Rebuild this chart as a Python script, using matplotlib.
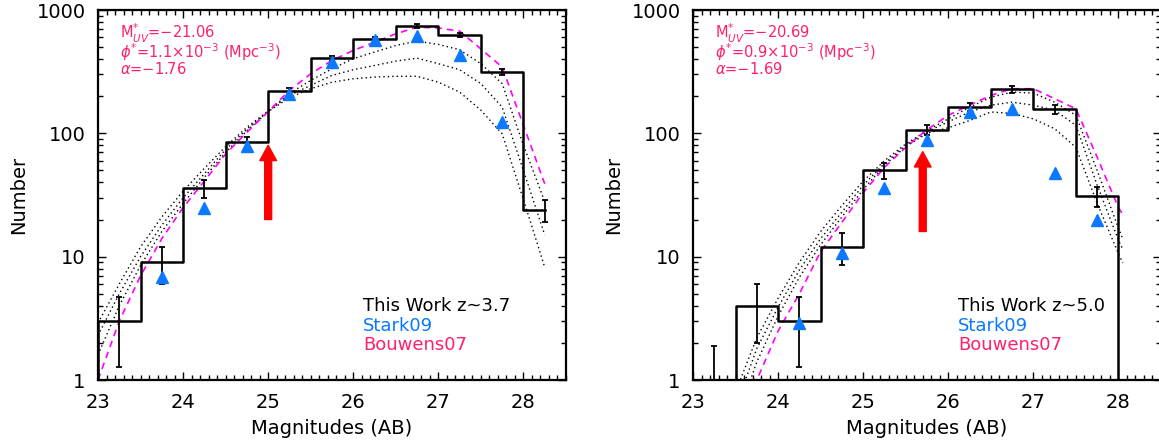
import numpy as np
import matplotlib
matplotlib.use("Agg")
import matplotlib.pyplot as plt
from matplotlib.ticker import FixedLocator, FixedFormatter, MultipleLocator

# ---- data ----
bin_mags = [22.75, 23.25, 23.75, 24.25, 24.75, 25.25, 25.75, 26.25, 26.75, 27.25, 27.75, 28.25]
counts_z37 = [0, 3, 9, 36, 85, 220, 407, 585, 747, 625, 314, 24]
counts_z50 = [0, 0, 4, 3, 12, 50, 107, 165, 227, 157, 31, 0]

# error bars (bin centre, count, error)
err_mags_z37 = [23.25, 23.75, 24.25, 24.75, 25.25, 25.75, 26.25, 26.75, 27.25, 27.75, 28.25]
err_n_z37 = [3, 9, 36, 85, 220, 407, 585, 747, 625, 314, 24]
err_z37 = [1.73, 3.0, 6.0, 9.2, 14.8, 20.2, 24.2, 27.3, 25.0, 17.7, 4.9]
err_mags_z50 = [23.25, 23.75, 24.25, 24.75, 25.25, 25.75, 26.25, 26.75, 27.25, 27.75]
err_n_z50 = [0, 4, 3, 12, 50, 107, 165, 227, 157, 31]
err_z50 = [1.9, 2.0, 1.73, 3.46, 7.1, 10.3, 12.8, 15.1, 12.5, 5.6]

stark_mags_z37 = [23.75, 24.25, 24.75, 25.25, 25.75, 26.25, 26.75, 27.25, 27.75]
stark_z37 = [6.9, 24.6, 79, 207, 376, 566, 610, 428, 124]
stark_mags_z50 = [24.25, 24.75, 25.25, 25.75, 26.25, 26.75, 27.25, 27.75]
stark_z50 = [2.9, 10.8, 36, 89, 148, 157, 48, 19.8]

model_mags_z37 = [23.0, 23.25, 23.5, 23.75, 24.0, 24.25, 24.5, 24.75, 25.0, 25.25, 25.5,
                  25.75, 26.0, 26.25, 26.5, 26.75, 27.0, 27.25, 27.5, 27.75, 28.0, 28.25]
bouwens_z37 = [1.0, 3.0, 7.0, 14, 25, 41, 68, 102, 150, 223, 304,
               390, 470, 548, 641, 726, 715, 674, 483, 344, 116, 39]
sim1_z37 = [2.9, 6.0, 12, 21, 34, 52, 78, 112, 152, 210, 269,
            334, 403, 456, 516, 559, 526, 476, 367, 253, 80, 28]
sim2_z37 = [2.3, 5.0, 10, 18, 30, 47, 74, 108, 151, 203, 245,
            295, 328, 355, 385, 407, 367, 328, 253, 163, 50, 15]
sim3_z37 = [1.6, 4.0, 8.5, 16, 27, 44, 70, 105, 150, 195, 230,
            260, 277, 286, 290, 290, 260, 216, 154, 99, 29, 8.2]

model_mags_z50 = [23.5, 23.75, 24.0, 24.25, 24.5, 24.75, 25.0, 25.25, 25.5, 25.75,
                  26.0, 26.25, 26.5, 26.75, 27.0, 27.25, 27.5, 27.75, 28.0, 28.05]
bouwens_z50 = [0.4, 1.0, 2.5, 5.0, 11, 19, 33, 53, 77, 107,
               140, 169, 203, 230, 230, 191, 158, 64, 25, 22]
sim1_z50 = [0.8, 2.2, 4.6, 9.0, 16, 26, 41, 60, 82, 105,
            131, 163, 196, 216, 212, 179, 140, 50, 17, 14]
sim2_z50 = [0.6, 1.8, 3.9, 7.8, 14, 23, 38, 57, 80, 103,
            124, 149, 169, 179, 169, 154, 116, 38, 13.6, 11.5]
sim3_z50 = [0.45, 1.4, 3.3, 6.8, 12.5, 21, 35, 55, 78, 100,
            111, 127, 149, 145, 131, 109, 77, 27, 10.6, 8.9]

arrow_z37 = (25.0, 20, 80)
arrow_z50 = (25.7, 16, 71)

labels_z37 = [r"M$^{*}_{UV}$=$-$21.06", r"$\phi^{*}$=1.1$\times$10$^{-3}$ (Mpc$^{-3}$)", r"$\alpha$=$-$1.76"]
labels_z50 = [r"M$^{*}_{UV}$=$-$20.69", r"$\phi^{*}$=0.9$\times$10$^{-3}$ (Mpc$^{-3}$)", r"$\alpha$=$-$1.69"]

PINK = "#ff1f6e"
BLUE = "#0a78ff"

plt.rcParams["font.family"] = "DejaVu Sans"
plt.rcParams["mathtext.fontset"] = "dejavusans"

fig = plt.figure(figsize=(11.59, 4.45), dpi=100)
ax1 = fig.add_axes([98 / 1159, 65 / 445, 468 / 1159, 370 / 445])
ax2 = fig.add_axes([693 / 1159, 65 / 445, 468 / 1159, 370 / 445])


def draw_panel(ax, counts, emags, en, err, smags, stark, mmags, bou, s1, s2, s3, arrow, params, zlabel):
    ax.set_yscale("log")
    for s in (s1, s2, s3):
        ax.plot(mmags, s, color="black", lw=1.0, ls=(0, (1, 2.2)))
    ax.plot(mmags, bou, color="magenta", lw=1.2, ls=(0, (4, 3)))
    ax.plot(bin_mags, counts, color="black", lw=1.8, drawstyle="steps-mid")
    ax.errorbar(emags, en, yerr=[np.minimum(err, en), err], fmt="none",
                ecolor="black", elinewidth=1.3, capsize=2.5, capthick=1.3)
    ax.plot(smags, stark, ls="none", marker="^", ms=9, color=BLUE, mec=BLUE)
    x, y0, y1 = arrow
    ax.annotate("", xy=(x, y1), xytext=(x, y0),
                arrowprops=dict(arrowstyle="simple,head_length=1.1,head_width=1.2,tail_width=0.5",
                                color="red", mutation_scale=10, shrinkA=0, shrinkB=0))

    ax.set_xlim(23, 28.5)
    ax.set_ylim(1, 1000)
    ax.xaxis.set_major_locator(MultipleLocator(1))
    ax.xaxis.set_minor_locator(MultipleLocator(0.1))
    ax.yaxis.set_major_locator(FixedLocator([1, 10, 100, 1000]))
    ax.yaxis.set_major_formatter(FixedFormatter(["1", "10", "100", "1000"]))
    ax.tick_params(which="both", direction="in", top=True, right=True, labelsize=14, width=1.0)
    ax.tick_params(which="major", length=6, pad=9)
    ax.tick_params(which="minor", length=3.5)
    for sp in ax.spines.values():
        sp.set_linewidth(1.6)

    ax.set_xlabel("Magnitudes (AB)", fontsize=14)
    ax.set_ylabel("Number", fontsize=14)
    ax.xaxis.set_label_coords(0.5, -0.105)
    ax.yaxis.set_label_coords(-0.15, 0.5)

    # fit parameters as one block of three lines
    ax.text(0.047, 0.968, "\n".join(params), transform=ax.transAxes, color=PINK,
            fontsize=10.5, va="top", ha="left", linespacing=0.8)
    ax.text(0.566, 0.20, zlabel, transform=ax.transAxes, color="black", fontsize=13, va="center")
    ax.text(0.566, 0.147, "Stark09", transform=ax.transAxes, color=BLUE, fontsize=13, va="center")
    ax.text(0.566, 0.094, "Bouwens07", transform=ax.transAxes, color=PINK, fontsize=13, va="center")


draw_panel(ax1, counts_z37, err_mags_z37, err_n_z37, err_z37, stark_mags_z37, stark_z37,
           model_mags_z37, bouwens_z37, sim1_z37, sim2_z37, sim3_z37, arrow_z37, labels_z37,
           "This Work z~3.7")
draw_panel(ax2, counts_z50, err_mags_z50, err_n_z50, err_z50, stark_mags_z50, stark_z50,
           model_mags_z50, bouwens_z50, sim1_z50, sim2_z50, sim3_z50, arrow_z50, labels_z50,
           "This Work z~5.0")

fig.savefig("out.png", dpi=100)
